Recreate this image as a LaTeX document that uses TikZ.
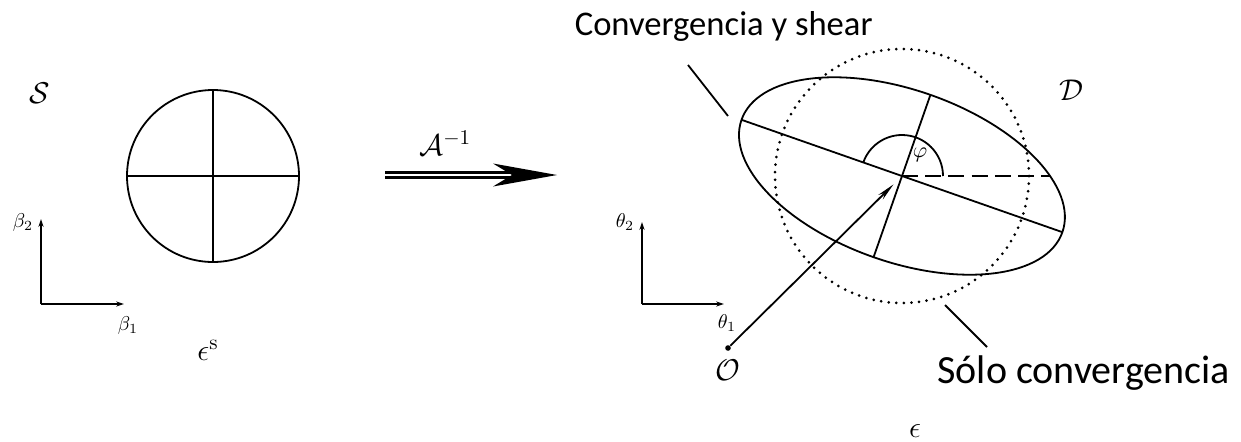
\RequirePackage{fix-cm}
\documentclass[tikz,border=0pt]{standalone}
\usepackage{fontspec}
\newfontfamily\lblfont{Carlito}
\usetikzlibrary{arrows.meta}
\tikzset{
  thinline/.style={line width=0.9pt},
  axisarrow/.style={line width=0.8pt,-{Stealth[length=4pt,width=2.6pt]}},
  dotcircle/.style={line width=1.5pt,line cap=round,dash pattern=on 0pt off 3.8pt},
  dashline/.style={line width=0.9pt,dash pattern=on 8pt off 3.6pt},
  biglabel/.style={font=\fontsize{15}{18}\selectfont, inner sep=0pt},
  smalllabel/.style={font=\fontsize{10}{12}\selectfont, inner sep=0pt},
  textlabel/.style={font=\lblfont\fontsize{20}{24}\selectfont, inner sep=0pt},
  dotnode/.style={circle, fill, inner sep=0pt, minimum size=2.8pt}
}
\begin{document}
\begin{tikzpicture}[x=0.5pt,y=0.5pt]
\useasboundingbox (0,0) rectangle (1241,441);
% ---------- source plane ----------
\node[biglabel] (S) at (40,348) {$\mathcal{S}$};
\node[draw, circle, thinline, minimum size=86pt, inner sep=0pt] (src) at (213,265) {};
\draw[thinline] (src.north) -- (src.south);
\draw[thinline] (src.west) -- (src.east);
\coordinate (bO) at (41,137);
\coordinate (bY) at (41,222);
\coordinate (bX) at (124,137);
\draw[axisarrow] (bO) -- (bY);
\draw[axisarrow] (bO) -- (bX);
\node[smalllabel] (b2) at (23,219) {$\beta_2$};
\node[smalllabel] (b1) at (128,116) {$\beta_1$};
\node[biglabel] (es) at (208,91) {$\epsilon^{\mathrm{s}}$};
% ---------- mapping arrow ----------
\coordinate (aL) at (385,266);
\coordinate (aN) at (515,266);
\coordinate (aR) at (557,266);
\draw[line width=1.5pt, double, double distance=1pt] (aL) -- (aN);
\fill (aR) -- (493,277.5) -- (512,266) -- (493,254.5) -- cycle;
\node[biglabel, anchor=base west] (A) at (419,286) {$\mathcal{A}^{-1}$};
% ---------- image plane ----------
\coordinate (c) at (902,265);
\draw[dotcircle] (c) circle[radius=127];
\draw[thinline, rotate around={-19.3:(c)}] (c) ellipse[x radius=170, y radius=86];
\draw[thinline] (c) -- ++(160.7:170) coordinate (ma1);
\draw[thinline] (c) -- ++(-19.3:170) coordinate (ma2);
\draw[thinline] (c) -- ++(70.7:86) coordinate (mi1);
\draw[thinline] (c) -- ++(-109.3:86) coordinate (mi2);
\draw[dashline] (c) -- ++(148,0) coordinate (dE);
\draw[thinline] (c) ++(41,0) arc[start angle=0, end angle=160.7, radius=41];
\node[smalllabel, font=\fontsize{11}{13}\selectfont] (phi) at (920,286) {$\varphi$};
\node[biglabel] (D) at (1071,351) {$\mathcal{D}$};
\node[dotnode] (o) at (728,93) {};
\node[biglabel] (Ol) at (728,71) {$\mathcal{O}$};
\draw[line width=0.9pt, -{Stealth[length=9pt,width=3.2pt]}, shorten >=6pt] (o) -- (c);
\coordinate (tO) at (642,137);
\coordinate (tY) at (642,219);
\coordinate (tX) at (724,137);
\draw[axisarrow] (tO) -- (tY);
\draw[axisarrow] (tO) -- (tX);
\node[smalllabel] (t2) at (625,219) {$\theta_2$};
\node[smalllabel] (t1) at (727,118) {$\theta_1$};
\node[biglabel] (eps) at (915,10) {$\epsilon$};
% ---------- text labels ----------
\node[textlabel, font=\lblfont\fontsize{17.3}{21}\selectfont, anchor=base east] (cs) at (873,406) {Convergencia y shear};
\coordinate (l1a) at (688,376);
\coordinate (l1b) at (728,325);
\draw[thinline] (l1a) -- (l1b);
\node[textlabel, anchor=base west] (sc) at (937,58) {Sólo convergencia};
\coordinate (l2a) at (945,136);
\coordinate (l2b) at (987,94);
\draw[thinline] (l2a) -- (l2b);
\end{tikzpicture}
\end{document}
